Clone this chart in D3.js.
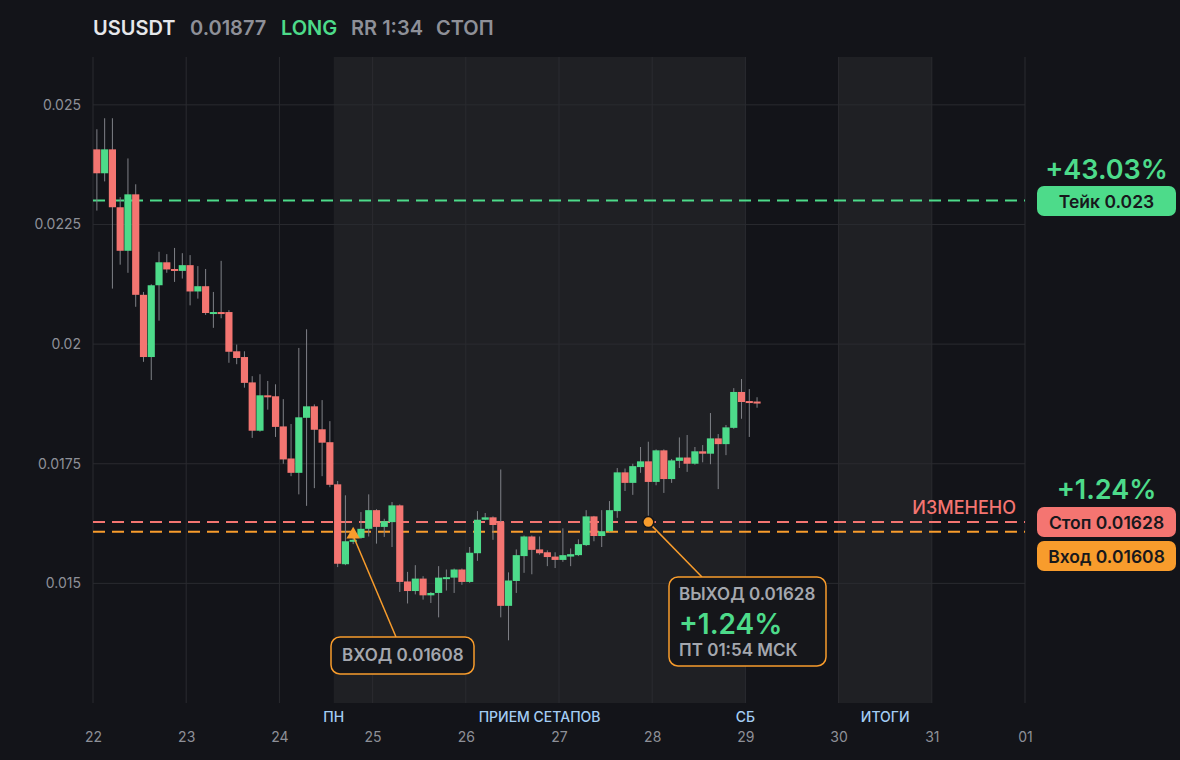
<!DOCTYPE html>
<html lang="ru">
<head>
<meta charset="UTF-8">
<script src="https://d3js.org/d3.v7.min.js"></script>
<title>USUSDT</title>
<style>
  html, body { margin: 0; background: #131419; }
  svg { display: block; font-family: Inter, "Noto Sans", sans-serif; }
</style>
</head>
<body>
<div id="chart"></div>
<script>
// header
const symbol = "USUSDT";
const lastPrice = "0.01877";
const side = "LONG";
const rrLabel = "RR 1:34";
const statusLabel = "СТОП";

// 2h candles starting day 22 00:00 : [open, high, low, close]
const startDay = 22;
const candlesPerDay = 12;
const candles = [
  [0.02407, 0.02449, 0.02279, 0.02357],
  [0.02357, 0.02472, 0.02340, 0.02407],
  [0.02407, 0.02472, 0.02116, 0.02286],
  [0.02286, 0.02307, 0.02166, 0.02195],
  [0.02195, 0.02388, 0.02149, 0.02313],
  [0.02313, 0.02334, 0.02078, 0.02103],
  [0.02103, 0.02109, 0.01963, 0.01973],
  [0.01973, 0.02125, 0.01925, 0.02123],
  [0.02123, 0.02193, 0.02049, 0.02171],
  [0.02171, 0.02188, 0.02149, 0.02156],
  [0.02157, 0.02201, 0.02130, 0.02153],
  [0.02153, 0.02190, 0.02137, 0.02165],
  [0.02165, 0.02186, 0.02081, 0.02110],
  [0.02110, 0.02163, 0.02095, 0.02121],
  [0.02121, 0.02157, 0.02061, 0.02065],
  [0.02064, 0.02109, 0.02034, 0.02067],
  [0.02067, 0.02174, 0.02054, 0.02064],
  [0.02067, 0.02071, 0.01961, 0.01984],
  [0.01985, 0.01999, 0.01958, 0.01971],
  [0.01973, 0.01985, 0.01909, 0.01919],
  [0.01920, 0.01933, 0.01804, 0.01819],
  [0.01819, 0.01937, 0.01817, 0.01893],
  [0.01893, 0.01923, 0.01863, 0.01890],
  [0.01891, 0.01916, 0.01806, 0.01827],
  [0.01828, 0.01885, 0.01750, 0.01759],
  [0.01761, 0.01833, 0.01724, 0.01731],
  [0.01731, 0.01992, 0.01686, 0.01847],
  [0.01846, 0.02031, 0.01662, 0.01870],
  [0.01870, 0.01874, 0.01699, 0.01821],
  [0.01822, 0.01883, 0.01724, 0.01794],
  [0.01795, 0.01839, 0.01701, 0.01706],
  [0.01707, 0.01714, 0.01534, 0.01541],
  [0.01540, 0.01684, 0.01538, 0.01588],
  [0.01588, 0.01600, 0.01582, 0.01591],
  [0.01595, 0.01649, 0.01593, 0.01614],
  [0.01614, 0.01686, 0.01598, 0.01653],
  [0.01653, 0.01655, 0.01583, 0.01618],
  [0.01618, 0.01635, 0.01597, 0.01630],
  [0.01628, 0.01670, 0.01576, 0.01663],
  [0.01663, 0.01665, 0.01482, 0.01503],
  [0.01504, 0.01524, 0.01458, 0.01484],
  [0.01484, 0.01538, 0.01477, 0.01510],
  [0.01510, 0.01515, 0.01466, 0.01475],
  [0.01475, 0.01482, 0.01459, 0.01480],
  [0.01480, 0.01536, 0.01429, 0.01512],
  [0.01511, 0.01529, 0.01485, 0.01513],
  [0.01512, 0.01531, 0.01480, 0.01529],
  [0.01529, 0.01531, 0.01497, 0.01503],
  [0.01503, 0.01576, 0.01501, 0.01564],
  [0.01563, 0.01651, 0.01547, 0.01633],
  [0.01633, 0.01647, 0.01632, 0.01638],
  [0.01638, 0.01640, 0.01591, 0.01622],
  [0.01628, 0.01738, 0.01429, 0.01453],
  [0.01453, 0.01523, 0.01381, 0.01506],
  [0.01505, 0.01571, 0.01480, 0.01559],
  [0.01557, 0.01600, 0.01522, 0.01598],
  [0.01598, 0.01600, 0.01519, 0.01570],
  [0.01571, 0.01598, 0.01560, 0.01563],
  [0.01565, 0.01569, 0.01536, 0.01555],
  [0.01556, 0.01565, 0.01532, 0.01549],
  [0.01549, 0.01615, 0.01545, 0.01559],
  [0.01556, 0.01573, 0.01536, 0.01561],
  [0.01559, 0.01592, 0.01557, 0.01582],
  [0.01580, 0.01653, 0.01578, 0.01640],
  [0.01640, 0.01641, 0.01588, 0.01599],
  [0.01599, 0.01653, 0.01576, 0.01609],
  [0.01609, 0.01672, 0.01607, 0.01653],
  [0.01651, 0.01741, 0.01637, 0.01732],
  [0.01732, 0.01740, 0.01693, 0.01710],
  [0.01710, 0.01750, 0.01685, 0.01745],
  [0.01743, 0.01785, 0.01731, 0.01755],
  [0.01755, 0.01796, 0.01641, 0.01712],
  [0.01712, 0.01780, 0.01705, 0.01778],
  [0.01778, 0.01780, 0.01689, 0.01718],
  [0.01718, 0.01760, 0.01710, 0.01757],
  [0.01756, 0.01805, 0.01741, 0.01763],
  [0.01763, 0.01810, 0.01733, 0.01750],
  [0.01750, 0.01785, 0.01748, 0.01776],
  [0.01776, 0.01789, 0.01753, 0.01771],
  [0.01771, 0.01856, 0.01749, 0.01803],
  [0.01803, 0.01812, 0.01697, 0.01791],
  [0.01791, 0.01831, 0.01768, 0.01826],
  [0.01825, 0.01908, 0.01823, 0.01900],
  [0.01900, 0.01927, 0.01844, 0.01879],
  [0.01881, 0.01906, 0.01806, 0.01877],
  [0.01880, 0.01889, 0.01867, 0.01877]
];

// trade levels
const entryPrice = 0.01608;
const stopPrice = 0.01628;
const takePrice = 0.023;
const entryIndex = 33;
const exitIndex = 71;
const exitTimeLabel = "ПТ 01:54 МСК";
const changedLabel = "ИЗМЕНЕНО";

// axes
const yTicks = [0.025, 0.0225, 0.02, 0.0175, 0.015];
const dayTicks = [22, 23, 24, 25, 26, 27, 28, 29, 30, 31, 32];
const dayLabels = ["22", "23", "24", "25", "26", "27", "28", "29", "30", "31", "01"];

// session bands and labels
const bands = [[24 + 7 / 12, 29], [30, 31]];
const phaseLabels = ["ПН", "ПРИЕМ СЕТАПОВ", "СБ", "ИТОГИ"];
const phaseAt = [24 + 7 / 12, (24 + 7 / 12 + 29) / 2, 29, 30.5];

const W = 1180, H = 760;
const C = {
  bg: "#131419", band: "#1f2024", grid: "#2a2b30",
  green: "#4ddb8a", red: "#f47571", orange: "#f89c2c",
  wick: "#7f8187", text: "#8e9098", blue: "#a3cdf4", dark: "#15161a"
};

const x = d3.scaleLinear().domain([22, 32]).range([93, 1025]);
const y = d3.scaleLinear().domain([0.0125, 0.026]).range([703, 57]);

const svg = d3.select("#chart").append("svg")
  .attr("width", W).attr("height", H);

svg.append("rect").attr("width", W).attr("height", H).attr("fill", C.bg);

// bands
svg.selectAll(".band").data(bands).enter().append("rect")
  .attr("x", d => x(d[0])).attr("width", d => x(d[1]) - x(d[0]))
  .attr("y", y.range()[1]).attr("height", y.range()[0] - y.range()[1])
  .attr("fill", C.band);

// grid
svg.selectAll(".vgrid").data(dayTicks).enter().append("line")
  .attr("x1", d => x(d)).attr("x2", d => x(d))
  .attr("y1", y.range()[1]).attr("y2", y.range()[0])
  .attr("stroke", C.grid).attr("stroke-width", 1);
svg.selectAll(".hgrid").data(yTicks).enter().append("line")
  .attr("x1", x(22)).attr("x2", x(32))
  .attr("y1", d => y(d)).attr("y2", d => y(d))
  .attr("stroke", C.grid).attr("stroke-width", 1);

// y axis labels
const yAxis = svg.append("g").attr("transform", "translate(81,0)")
  .call(d3.axisLeft(y).tickValues(yTicks).tickSize(0).tickPadding(0).tickFormat(d => String(d)));
yAxis.select(".domain").remove();
yAxis.selectAll("text").attr("fill", C.text).style("font-size", "14px").style("font-family", "Inter");

// x axis labels
const xAxis = svg.append("g").attr("transform", "translate(0,703)")
  .call(d3.axisBottom(x).tickValues(dayTicks).tickSize(0).tickPadding(29)
    .tickFormat((d, i) => dayLabels[i]));
xAxis.select(".domain").remove();
xAxis.selectAll("text").attr("fill", C.text).style("font-size", "14px").style("font-family", "Inter");

// phase labels
svg.selectAll(".phase").data(phaseLabels).enter().append("text")
  .attr("x", (d, i) => x(phaseAt[i])).attr("y", 722)
  .attr("text-anchor", "middle").attr("fill", C.blue)
  .style("font-size", "14px").style("font-weight", 500)
  .text(d => d);

// level lines
const levels = [
  { p: takePrice, c: C.green },
  { p: stopPrice, c: C.red },
  { p: entryPrice, c: C.orange }
];
svg.selectAll(".level").data(levels).enter().append("line")
  .attr("x1", x(22)).attr("x2", x(32))
  .attr("y1", d => y(d.p)).attr("y2", d => y(d.p))
  .attr("stroke", d => d.c).attr("stroke-width", 2)
  .attr("stroke-dasharray", "12,7");

// candles
const step = (x(1) - x(0)) / candlesPerDay;
const t = i => startDay + i / candlesPerDay;
const cg = svg.append("g");
cg.selectAll(".wick").data(candles).enter().append("line")
  .attr("x1", (d, i) => x(t(i)) + step / 2).attr("x2", (d, i) => x(t(i)) + step / 2)
  .attr("y1", d => y(d[1])).attr("y2", d => y(d[2]))
  .attr("stroke", C.wick).attr("stroke-width", 1);
cg.selectAll(".body").data(candles).enter().append("rect")
  .attr("x", (d, i) => x(t(i)) + 0.3)
  .attr("width", step - 0.6)
  .attr("y", d => y(Math.max(d[0], d[3])))
  .attr("height", d => Math.max(2, Math.abs(y(d[0]) - y(d[3]))))
  .attr("fill", d => d[3] >= d[0] ? C.green : C.red);

// header
const header = [
  { s: symbol, c: "#e6e7ea", x: 93 },
  { s: lastPrice, c: C.text, x: 190 },
  { s: side, c: C.green, x: 281 },
  { s: rrLabel, c: C.text, x: 351 },
  { s: statusLabel, c: C.text, x: 436 }
];
svg.selectAll(".hdr").data(header).enter().append("text")
  .attr("x", d => d.x).attr("y", 35).attr("fill", d => d.c)
  .style("font-size", "20px").style("font-weight", 600)
  .text(d => d.s);

// entry marker and callout
const ex = x(t(entryIndex)) + step / 2, ey = y(entryPrice);
const entryBox = { x: 331, y: 637, w: 143, h: 37 };
svg.append("line").attr("x1", ex).attr("y1", ey + 4)
  .attr("x2", 396).attr("y2", entryBox.y)
  .attr("stroke", C.orange).attr("stroke-width", 1.5);
svg.append("path").attr("d", d3.symbol(d3.symbolTriangle, 80)())
  .attr("transform", `translate(${ex},${ey + 3})`).attr("fill", C.orange);
svg.append("rect").attr("x", entryBox.x).attr("y", entryBox.y)
  .attr("width", entryBox.w).attr("height", entryBox.h).attr("rx", 9)
  .attr("fill", C.dark).attr("stroke", C.orange).attr("stroke-width", 1.5);
svg.append("text").attr("x", entryBox.x + 11).attr("y", entryBox.y + 24)
  .attr("fill", "#a4a7ae").style("font-size", "17px").style("font-weight", 600)
  .text("ВХОД " + entryPrice);

// exit marker and callout
const xx = x(t(exitIndex)) + step / 2, xy = y(stopPrice);
const exitBox = { x: 669, y: 577, w: 157, h: 89 };
svg.append("line").attr("x1", xx).attr("y1", xy)
  .attr("x2", 702).attr("y2", exitBox.y)
  .attr("stroke", C.orange).attr("stroke-width", 1.5);
svg.append("circle").attr("cx", xx).attr("cy", xy).attr("r", 5.5)
  .attr("fill", C.orange).attr("stroke", C.bg).attr("stroke-width", 1.5);
svg.append("rect").attr("x", exitBox.x).attr("y", exitBox.y)
  .attr("width", exitBox.w).attr("height", exitBox.h).attr("rx", 9)
  .attr("fill", C.dark).attr("stroke", C.orange).attr("stroke-width", 1.5);
const pnl = (stopPrice - entryPrice) / entryPrice * 100;
const takePct = (takePrice - entryPrice) / entryPrice * 100;
svg.append("text").attr("x", exitBox.x + 10).attr("y", exitBox.y + 23)
  .attr("fill", "#a4a7ae").style("font-size", "17px").style("font-weight", 600)
  .text("ВЫХОД " + stopPrice);
svg.append("text").attr("x", exitBox.x + 10).attr("y", exitBox.y + 57)
  .attr("fill", C.green).style("font-size", "28px").style("font-weight", 600)
  .text("+" + pnl.toFixed(2) + "%");
svg.append("text").attr("x", exitBox.x + 10).attr("y", exitBox.y + 79)
  .attr("fill", "#a4a7ae").style("font-size", "17px").style("font-weight", 600)
  .text(exitTimeLabel);

// right side badges
const bx = 1037, bw = 139, bh = 30, bcx = bx + bw / 2;
const badges = [
  { s: "Тейк " + takePrice, c: C.green, top: 186 },
  { s: "Стоп " + stopPrice, c: C.red, top: 507 },
  { s: "Вход " + entryPrice, c: C.orange, top: 541 }
];
const bg = svg.selectAll(".badge").data(badges).enter().append("g");
bg.append("rect").attr("x", bx).attr("y", d => d.top).attr("width", bw).attr("height", bh)
  .attr("rx", 7).attr("fill", d => d.c);
bg.append("text").attr("x", bcx).attr("y", d => d.top + 22).attr("text-anchor", "middle")
  .attr("fill", "#17181c").style("font-size", "17.5px").style("font-weight", 600)
  .text(d => d.s);

svg.append("text").attr("x", bcx).attr("y", 179).attr("text-anchor", "middle")
  .attr("fill", C.green).style("font-size", "27px").style("font-weight", 600)
  .text("+" + takePct.toFixed(2) + "%");
svg.append("text").attr("x", bcx).attr("y", 499).attr("text-anchor", "middle")
  .attr("fill", C.green).style("font-size", "27px").style("font-weight", 600)
  .text("+" + pnl.toFixed(2) + "%");
svg.append("text").attr("x", 1016).attr("y", 514).attr("text-anchor", "end")
  .attr("fill", C.red).style("font-size", "18px").style("font-weight", 500)
  .text(changedLabel);
</script>
</body>
</html>
